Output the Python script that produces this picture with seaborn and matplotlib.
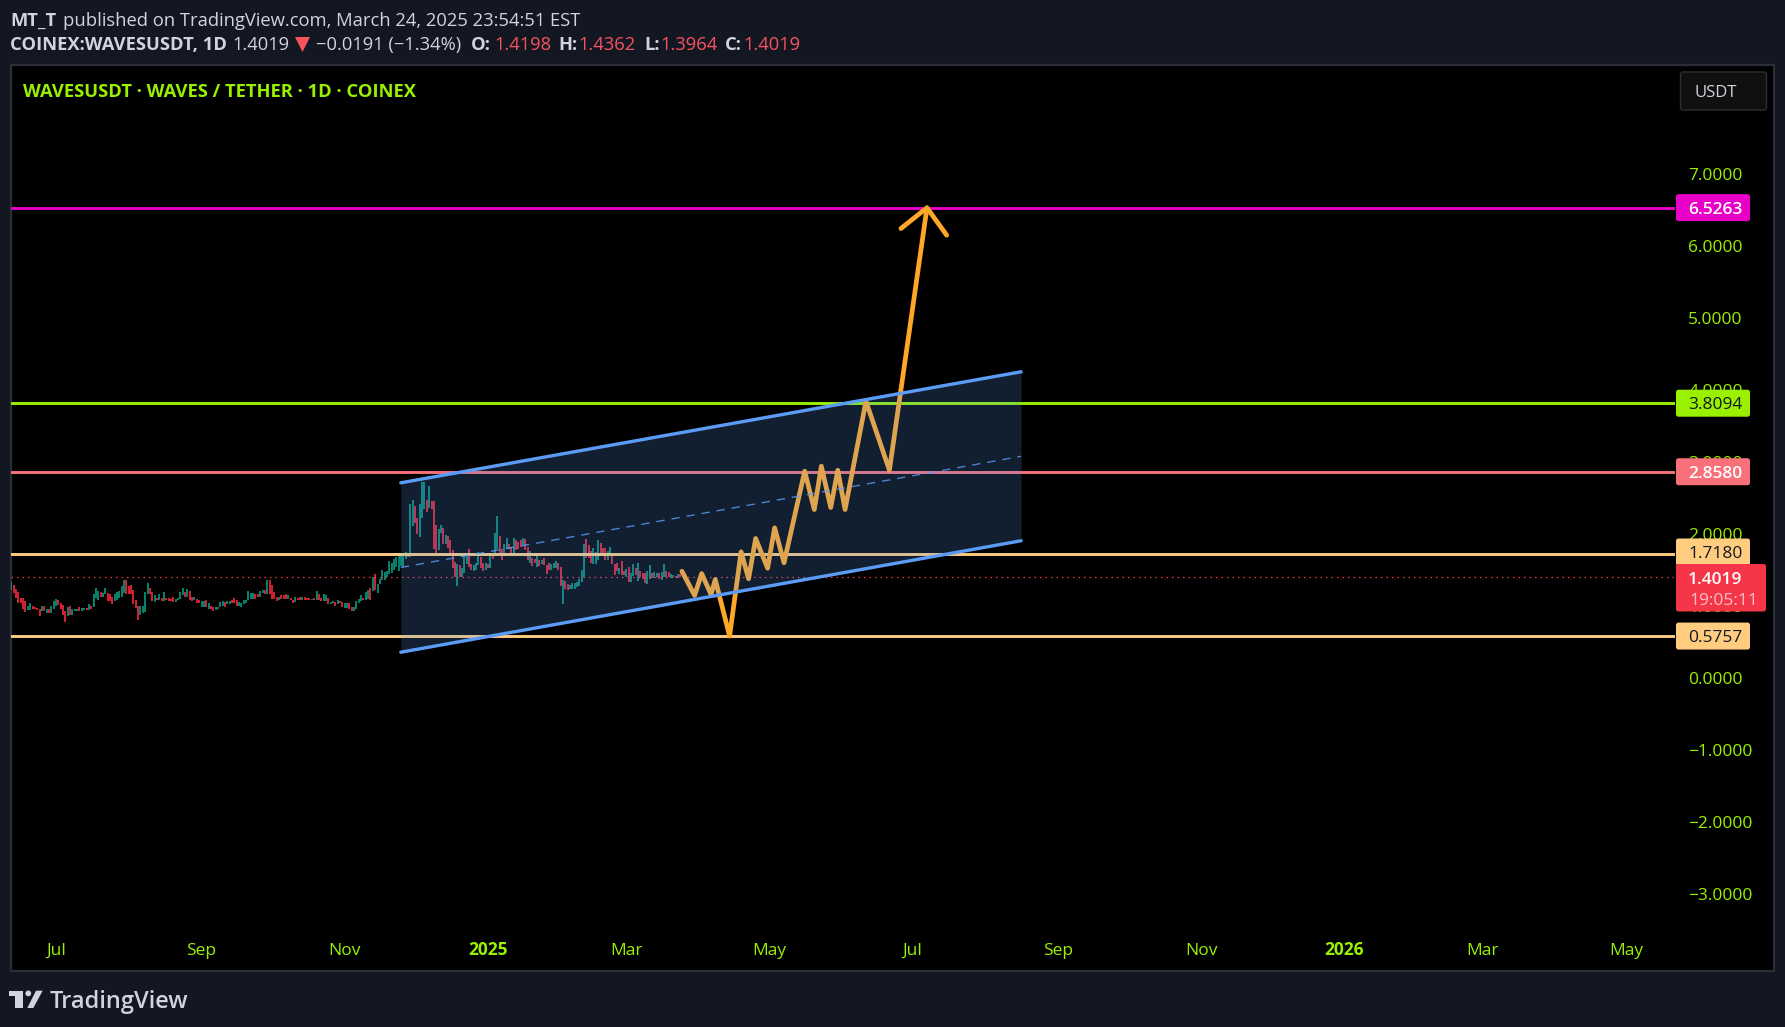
import numpy as np
import pandas as pd
import matplotlib
matplotlib.use("Agg")
import matplotlib.pyplot as plt
from matplotlib.patches import FancyBboxPatch, Rectangle, Polygon, Circle
from matplotlib.transforms import IdentityTransform
import seaborn as sns

# ---------- data ----------
highs = [
 1.324,1.278,1.236,1.185,1.111,1.111,1.056,.991,1.028,1.0,
 .973,.968,.945,1.0,1.0,.954,.945,.991,1.06,1.097,
 1.083,1.037,1.009,.917,.973,1.0,.949,.945,.949,.973,
 .959,.959,.959,1.014,1.0,1.153,1.25,1.199,1.185,1.167,
 1.25,1.167,1.153,1.125,1.153,1.185,1.195,1.264,1.361,1.361,
 1.264,1.278,1.222,1.083,1.0,1.0,1.0,1.181,1.306,1.25,
 1.181,1.139,1.111,1.153,1.111,1.181,1.111,1.111,1.097,1.125,
 1.097,1.111,1.181,1.25,1.181,1.236,1.195,1.125,1.125,1.097,
 1.083,1.056,1.056,1.07,1.028,1.0,.973,.973,.986,1.042,
 1.056,1.042,1.056,1.056,1.07,1.111,1.07,1.042,1.028,1.07,
 1.083,1.195,1.167,1.167,1.153,1.153,1.195,1.222,1.209,1.361,
 1.361,1.278,1.181,1.125,1.125,1.139,1.139,1.153,1.139,1.111,
 1.083,1.125,1.111,1.125,1.125,1.125,1.111,1.111,1.097,1.111,
 1.195,1.153,1.111,1.153,1.139,1.111,1.042,1.056,1.042,1.07,
 1.056,1.042,1.028,1.028,1.028,.986,.973,1.056,1.097,1.139,
 1.111,1.181,1.209,1.25,1.394,1.431,1.292,1.375,1.5,1.459,
 1.473,1.625,1.593,1.639,1.667,1.736,
 1.709,1.732,1.75,1.732,2.403,2.459,2.38,2.209,2.403,2.713,
 2.713,2.472,2.658,2.449,2.449,2.116,2.056,2.125,2.07,1.986,
 1.972,1.903,1.764,1.602,1.57,1.556,1.523,1.709,1.685,1.778,
 1.57,1.556,1.593,1.741,1.676,1.593,1.593,1.57,1.709,1.709,
 2.009,2.25,1.972,1.787,1.861,1.94,1.861,1.815,1.94,1.903,
 1.88,1.903,1.94,1.917,1.815,1.755,1.662,1.639,1.722,1.63,
 1.63,1.653,1.556,1.593,1.57,1.593,1.625,1.593,1.537,1.352,
 1.347,1.292,1.287,1.306,1.315,1.324,1.371,1.5,1.861,1.917,
 1.834,1.755,1.792,1.741,1.903,1.871,1.801,1.801,1.755,1.815,
 1.709,1.583,1.593,1.523,1.625,1.486,1.509,1.533,1.454,1.583,
 1.523,1.593,1.477,1.454,1.454,1.477,1.556,1.454,1.463,1.454,
 1.454,1.463,1.583,1.477,1.468,1.431,1.417,1.408,1.431,1.4362,
]
lows = [
 1.222,1.167,1.107,1.037,1.028,.945,.903,.931,.935,.945,
 .945,.931,.861,.917,.917,.889,.898,.889,.954,1.0,
 1.009,.954,.875,.764,.861,.875,.875,.917,.917,.917,
 .917,.931,.931,.935,.945,.986,1.107,1.083,1.12,1.12,
 1.153,1.06,1.06,1.014,1.06,1.083,1.107,1.12,1.176,1.153,
 1.153,1.153,1.014,.963,.792,.875,.898,.903,1.153,1.153,
 1.065,1.042,1.07,1.07,1.056,1.056,1.07,1.056,1.056,1.042,
 1.042,1.07,1.093,1.139,1.125,1.125,1.083,1.056,1.07,1.028,
 1.028,.986,.986,.973,.945,.945,.917,.931,.945,.973,
 1.0,.986,1.014,1.014,1.028,1.028,1.0,1.0,.986,1.014,
 1.028,1.083,1.097,1.097,1.097,1.125,1.125,1.176,1.153,1.153,
 1.153,1.097,1.097,1.056,1.07,1.097,1.097,1.097,1.097,1.07,
 1.028,1.042,1.07,1.07,1.07,1.07,1.07,1.07,1.07,1.07,
 1.083,1.083,1.056,1.056,1.056,1.014,1.014,1.028,1.0,1.014,
 1.028,.973,.959,.959,.945,.917,.917,.945,1.028,1.056,
 1.07,1.083,1.097,1.083,1.195,1.222,1.167,1.292,1.361,1.361,
 1.389,1.431,1.454,1.5,1.528,1.473,
 1.547,1.537,1.639,1.676,1.676,2.102,2.148,2.0,1.949,2.218,
 2.343,2.297,2.357,2.334,1.778,1.732,1.769,2.009,1.861,1.861,
 1.801,1.709,1.523,1.398,1.269,1.398,1.398,1.454,1.57,1.537,
 1.5,1.477,1.5,1.556,1.523,1.486,1.5,1.523,1.523,1.639,
 1.685,1.778,1.732,1.63,1.709,1.787,1.787,1.709,1.695,1.769,
 1.778,1.815,1.847,1.769,1.63,1.593,1.546,1.593,1.537,1.546,
 1.57,1.556,1.431,1.5,1.491,1.523,1.523,1.491,1.269,1.014,
 1.231,1.213,1.231,1.231,1.231,1.259,1.269,1.324,1.398,1.662,
 1.662,1.593,1.57,1.583,1.63,1.709,1.709,1.63,1.63,1.695,
 1.57,1.421,1.477,1.431,1.417,1.417,1.398,1.324,1.324,1.408,
 1.417,1.338,1.398,1.371,1.306,1.292,1.375,1.384,1.384,1.398,
 1.371,1.361,1.398,1.398,1.398,1.384,1.389,1.38,1.38,1.3964,
]
directions = (
 "grrrrrrggr" "rrrgrgrggg" "rrrrgrgggr" "ggrgrgggrg" "grrrgggggr"
 "rrrrrggggr" "rgrgrgrrrr" "ggggrgrrgr" "rggrgrrggg" "grggrrrggg"
 "ggggrrggrg" "rrrrgrrrgr" "rgrrgrrrgr" "grrggrggrg" "rrggrrgggg"
 "rggrgrgggg" "gggggg"
 "gggrggrrgg" "grgrrrggrg" "rrrrgrgggr" "rgggrrgrgr" "ggrrggrrgr"
 "rrgrrgrrgr" "grrrgggrrg" "rrgggggggr" "rrgggrrrgg" "rrrgrrgrgg"
 "rgrrrggrgg" "rggrrggrgr"
)
first_day = -19  # days relative to 1 Jul 2024

tick_dates = ["2024-07-01","2024-09-01","2024-11-01","2025-01-01","2025-03-01","2025-05-01",
              "2025-07-01","2025-09-01","2025-11-01","2026-01-01","2026-03-01","2026-05-01"]
tick_names = ["Jul","Sep","Nov","2025","Mar","May","Jul","Sep","Nov","2026","Mar","May"]
price_ticks = [-3,-2,-1,0,1,2,3,4,5,6,7]

path_days = [266.7,272.1,275.1,279.1,280.9,287.0,291.9,295.1,298.1,303.2,306.2,310.2,
             319.0,323.1,326.1,330.1,333.1,336.2,345.1,355.1,371.1]
path_vals = [1.476,1.139,1.444,1.153,1.361,0.575,1.746,1.371,1.931,1.518,2.079,1.593,
             2.865,2.333,2.935,2.361,2.879,2.333,3.837,2.879,6.524]
head_days = [360.0,371.1,379.5]
head_vals = [6.236,6.524,6.143]

chan_days = [146.9,411.2]
chan_top = [2.704,4.246]
chan_mid = [1.528,3.072]
chan_bot = [0.351,1.899]

level_vals = [6.5263,3.8094,2.8580,1.7180,0.5757]
level_cols = ["#E800C8","#99F000","#F7707A","#FFCC80","#FFCC80"]
level_txt = ["#FFFFFF","#131722","#FFFFFF","#131722","#131722"]
last_price = 1.4019

# ---------- layout ----------
W, H = 1785, 1027
sns.set_theme(style="dark")
plt.rcParams['font.family'] = ['Open Sans', 'DejaVu Sans']
BG, LIME, TXT, RED = "#131722", "#99F000", "#D1D4DC", "#F23645"
GREEN_C, RED_C = "#089981", "#F7283C"

fig = plt.figure(figsize=(W/100, H/100), dpi=100, facecolor=BG)
fig.add_artist(Rectangle((11/W, 1-971/H), 1763/W, 906/H, transform=fig.transFigure,
                         facecolor="black", edgecolor="#2A2E39", linewidth=1.6, zorder=-1))
ax = fig.add_axes([11/W, 1-924.5/H, 1664/W, 860/H], facecolor="none")
ax.set_axisbelow(True)
for s in ax.spines.values():
    s.set_visible(False)
ax.grid(False)

# candles
days = np.arange(first_day, first_day+len(highs))
cols = [GREEN_C if d == "g" else RED_C for d in directions]
ax.vlines(days, lows, highs, colors=cols, linewidth=1.2, zorder=2)

# levels and last price
for v, c in zip(level_vals, level_cols):
    ax.axhline(v, color=c, linewidth=2.1, zorder=3)
ax.axhline(last_price, color=RED, linewidth=0.9, linestyle=(0, (1.2, 3.2)), zorder=2.5)

# forecast path
line_kw = dict(ax=ax, estimator=None, sort=False, legend=False)
sns.lineplot(x=path_days, y=path_vals, color="#FFA726", linewidth=3.4, zorder=4,
             solid_capstyle="round", solid_joinstyle="round", **line_kw)
sns.lineplot(x=head_days, y=head_vals, color="#FFA726", linewidth=3.4, zorder=4,
             solid_capstyle="round", solid_joinstyle="round", **line_kw)

# channel
ax.fill_between(chan_days, chan_bot, chan_top, color="#5B9CF6", alpha=0.2, linewidth=0, zorder=5)
sns.lineplot(x=chan_days, y=chan_top, color="#5B9CF6", linewidth=2.4, zorder=6, **line_kw)
sns.lineplot(x=chan_days, y=chan_bot, color="#5B9CF6", linewidth=2.4, zorder=6, **line_kw)
sns.lineplot(x=chan_days, y=chan_mid, color="#5B9CF6", linewidth=1.0, alpha=0.8, zorder=6,
             linestyle=(0, (6, 5)), **line_kw)

ax.set_xlim((11-56)/2.347, (1675-56)/2.347)
ax.set_ylim((678-925)/72, (678-65)/72)

# axes
origin = pd.Timestamp("2024-07-01")
ax.set_xticks([(pd.Timestamp(d)-origin).days for d in tick_dates])
ax.set_xticklabels(tick_names)
ax.tick_params(axis="x", length=0, pad=22, colors=LIME, labelsize=12.5)
for lab, name in zip(ax.get_xticklabels(), tick_names):
    lab.set_fontweight("bold" if name.isdigit() else "normal")
    lab.set_verticalalignment("baseline")
ax.yaxis.tick_right()
ax.set_yticks(price_ticks)
ax.set_yticklabels([f"{t:.4f}".replace("-", "\u2212") for t in price_ticks])
ax.tick_params(axis="y", length=0, pad=9.5, colors=LIME, labelsize=12.5)
ax.set_xlabel(""); ax.set_ylabel("")

# price labels
fig.canvas.draw()
def ypx(v):
    return ax.transData.transform((0, v))[1]
def box(x, y, w, h, color, ec="none", z=10):
    fig.add_artist(FancyBboxPatch((x, y), w, h, boxstyle="round,pad=0,rounding_size=2.5",
                                  facecolor=color, edgecolor=ec, transform=IdentityTransform(),
                                  zorder=z, linewidth=1))
def label(x, y, s, color, size=12.5, weight="normal", ha="left", z=11):
    fig.text(x, y, s, color=color, fontsize=size, fontweight=weight, ha=ha, va="center_baseline",
             transform=IdentityTransform(), zorder=z)

for v, c, t in zip(level_vals, level_cols, level_txt):
    y = ypx(v)
    if v == 1.7180:
        y = H-552
    box(1676, y-13.5, 74, 27, c)
    label(1742.5, y, f"{v:.4f}", t, ha="right", weight="semibold" if t == "#FFFFFF" else "normal")
box(1676, H-611.5, 90, 47.5, "#F53649", z=12)
label(1742.5, H-577.5, f"{last_price:.4f}", "#FFFFFF", ha="right", z=13, weight="semibold")
label(1758, H-599, "19:05:11", "#FBC0C6", ha="right", z=13)

# currency button
box(1680.5, H-110, 86, 38, "#101010", ec="#2E2E2E")
label(1695, H-91, "USDT", TXT, size=12)

# header
def head(x, y, s, color=TXT, size=13.2, weight="normal", ha="left"):
    fig.text(x/W, 1-y/H, s, color=color, fontsize=size, fontweight=weight, ha=ha, va="center_baseline")
head(10, 19, "MT_T", weight="bold")
head(63, 19, "published on TradingView.com, March 24, 2025 23:54:51 EST")
head(10, 43, "COINEX:WAVESUSDT, 1D", weight="bold")
head(232.5, 43, "1.4019")
fig.add_artist(Polygon([(295/W, 1-37/H), (310/W, 1-37/H), (302.5/W, 1-52/H)], closed=True,
                       facecolor="#F7525F", edgecolor="none", transform=fig.transFigure))
head(316, 43, "\u22120.0191 (\u22121.34%)")
for x1, name, x2, val in [(471, "O:", 494, "1.4198"), (558, "H:", 578, "1.4362"),
                          (644, "L:", 660, "1.3964"), (724.5, "C:", 743.4, "1.4019")]:
    head(x1, 43, name, weight="bold")
    head(x2, 43, val, color="#F7525F")
head(23, 90, "WAVESUSDT \u00b7 WAVES / TETHER \u00b7 1D \u00b7 COINEX", color=LIME, weight="bold", size=13.2)

# footer logo
logo = "#D1D4DC"
fig.add_artist(Polygon([(9/W,1-990.7/H),(23.3/W,1-990.7/H),(23.3/W,1-1008/H),(15.3/W,1-1008/H),
                        (15.3/W,1-996/H),(9/W,1-996/H)], closed=True, facecolor=logo, edgecolor="none",
                       transform=fig.transFigure))
fig.add_artist(Circle((28.3, H-993.4), 2.9, facecolor=logo, edgecolor="none", transform=IdentityTransform()))
fig.add_artist(Polygon([(36/W,1-990.7/H),(42.7/W,1-990.7/H),(33.3/W,1-1008/H),(27.3/W,1-1008/H)],
                       closed=True, facecolor=logo, edgecolor="none", transform=fig.transFigure))
head(50, 999.5, "TradingView", color=logo, size=17, weight="semibold")

fig.savefig("out.png", dpi=100, facecolor=BG)
